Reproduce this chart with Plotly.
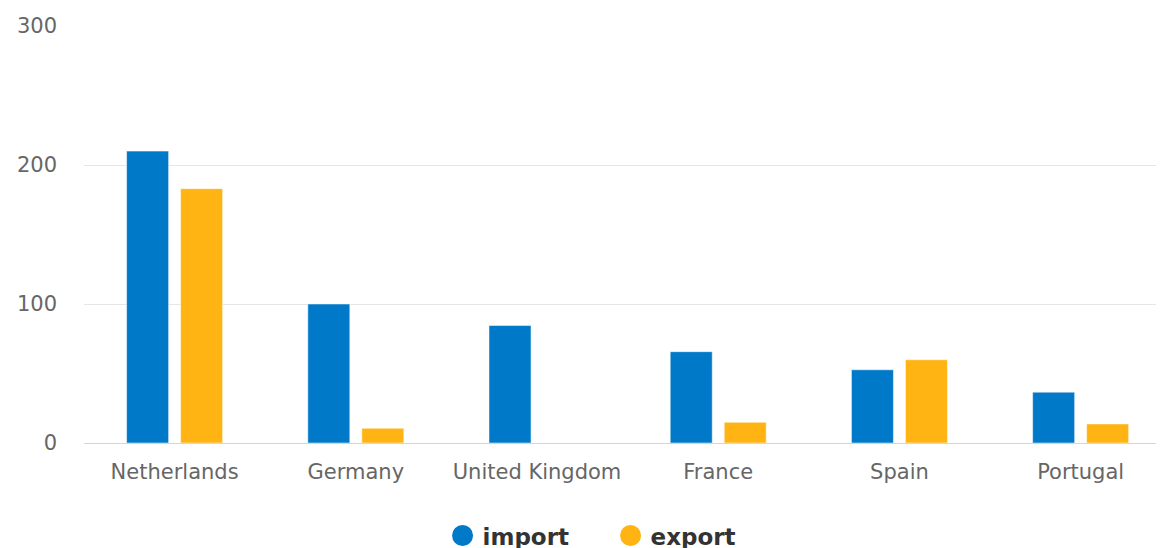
import plotly.graph_objects as go

countries = ["Netherlands", "Germany", "United Kingdom", "France", "Spain", "Portugal"]
import_vals = [210, 100, 84.5, 65.7, 52.7, 36.6]
export_vals = [183, 10.6, 0, 14.9, 59.9, 13.7]
y_ticks = [0, 100, 200, 300]

BLUE = "#0079c8"
ORANGE = "#ffb413"
FONT = "DejaVu Sans"

fig = go.Figure()
fig.add_trace(go.Bar(name="import", x=countries, y=import_vals,
                     marker=dict(color=BLUE, line=dict(color="rgba(255,255,255,0.5)", width=1)),
                     showlegend=False))
fig.add_trace(go.Bar(name="export", x=countries, y=export_vals,
                     marker=dict(color=ORANGE, line=dict(color="rgba(255,255,255,0.5)", width=1)),
                     showlegend=False))
for name, col in [("import", BLUE), ("export", ORANGE)]:
    fig.add_trace(go.Scatter(name=name, x=[None], y=[None], mode="markers",
                             marker=dict(symbol="circle", size=16, color=col,
                                         line=dict(color=col, width=5)),
                             showlegend=True))

fig.update_layout(
    width=1156, height=540,
    margin=dict(l=76, r=0, t=18, b=105, autoexpand=False),
    paper_bgcolor="white", plot_bgcolor="white",
    barmode="group", bargap=0.404, bargroupgap=0.222,
    font=dict(family=FONT, color="#666666", size=21),
    xaxis=dict(range=[-0.5, 5.46], showline=True, linecolor="#ccd6eb", linewidth=1,
               showgrid=False, ticks="", tickfont=dict(size=21, color="#666666", family=FONT),
               ticklabelstandoff=10, fixedrange=True),
    yaxis=dict(range=[0, 300], tickvals=y_ticks, showgrid=True, gridcolor="#e6e6e6",
               gridwidth=1, zeroline=False, showline=False, ticks="",
               tickfont=dict(size=21, color="#666666", family=FONT),
               ticklabelstandoff=26, fixedrange=True),
    legend=dict(orientation="h", x=0.332, xanchor="left", y=-0.222, yanchor="middle",
                entrywidth=123,
                font=dict(family=FONT, size=23, color="#333333", weight="bold"),
                itemclick=False, itemdoubleclick=False),
    showlegend=True,
)

fig.write_html("out.html")
